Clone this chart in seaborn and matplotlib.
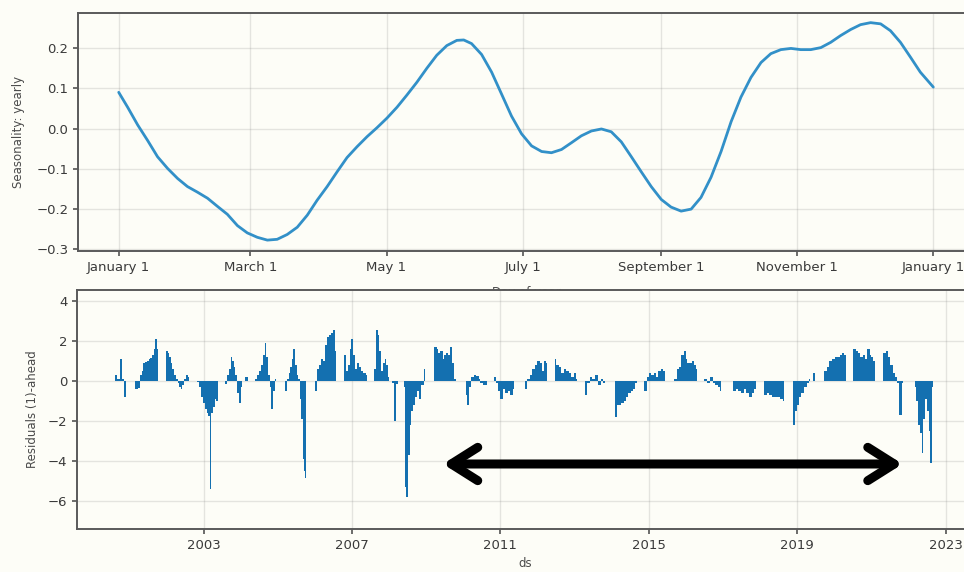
import numpy as np
import pandas as pd
import matplotlib
matplotlib.use("Agg")
import matplotlib.pyplot as plt
import matplotlib.dates as mdates
import seaborn as sns

# ---- yearly seasonality component (day of year -> effect) ----
season_day = [0, 4.0, 8.5, 13.0, 17.4, 21.9, 26.4, 30.8, 35.3, 39.8, 44.2, 48.7,
              53.2, 57.6, 62.1, 66.6, 71.0, 75.5, 80.0, 84.5, 88.9, 93.4, 97.9,
              102.3, 106.8, 111.3, 115.7, 120.2, 124.7, 129.1, 133.6, 138.1,
              142.5, 147.0, 151.5, 154.6, 158.1, 162.6, 167.1, 171.6, 176.0,
              180.5, 185.0, 189.5, 193.9, 198.4, 202.9, 207.3, 211.8, 216.3,
              220.7, 225.2, 229.7, 234.1, 238.6, 243.1, 247.5, 252.0, 256.5,
              260.9, 265.4, 269.9, 274.4, 278.8, 283.3, 287.8, 292.2, 296.7,
              301.2, 305.6, 310.1, 314.6, 319.0, 323.5, 328.0, 332.4, 336.9,
              341.4, 345.8, 350.3, 354.8, 359.2, 365.0]
season_value = [0.090, 0.053, 0.009, -0.030, -0.070, -0.099, -0.124, -0.144,
                -0.158, -0.173, -0.193, -0.213, -0.241, -0.259, -0.270, -0.277,
                -0.275, -0.263, -0.245, -0.215, -0.178, -0.144, -0.107, -0.072,
                -0.045, -0.020, 0.002, 0.026, 0.053, 0.083, 0.115, 0.150, 0.182,
                0.206, 0.219, 0.220, 0.211, 0.184, 0.140, 0.085, 0.031, -0.013,
                -0.043, -0.057, -0.060, -0.052, -0.035, -0.018, -0.006, -0.001,
                -0.008, -0.033, -0.070, -0.107, -0.144, -0.176, -0.195, -0.205,
                -0.200, -0.171, -0.121, -0.057, 0.017, 0.078, 0.127, 0.164,
                0.186, 0.196, 0.199, 0.196, 0.196, 0.201, 0.214, 0.231, 0.246,
                0.258, 0.263, 0.260, 0.243, 0.214, 0.177, 0.140, 0.103]
month_tick_day = [0, 59, 120, 181, 243, 304, 365]
month_tick_label = ["January 1", "March 1", "May 1", "July 1", "September 1",
                    "November 1", "January 1"]

# ---- one-step-ahead residuals (decimal year -> residual) ----
residual_year = [
    2000.62, 2000.68, 2000.75, 2000.81, 2000.86,
    2001.16, 2001.22, 2001.29, 2001.34, 2001.38, 2001.43, 2001.47, 2001.52, 2001.56,
    2001.61, 2001.65, 2001.70, 2001.74,
    2001.98, 2002.03, 2002.07, 2002.12, 2002.16, 2002.21, 2002.25, 2002.30, 2002.34,
    2002.39, 2002.43, 2002.48, 2002.52, 2002.57,
    2002.82, 2002.87, 2002.93, 2002.98, 2003.04, 2003.09, 2003.13, 2003.17, 2003.21,
    2003.25, 2003.30, 2003.34,
    2003.58, 2003.64, 2003.68, 2003.73, 2003.77, 2003.82, 2003.86, 2003.91, 2003.95,
    2004.00, 2004.05, 2004.11, 2004.16,
    2004.39, 2004.45, 2004.50, 2004.56, 2004.60, 2004.65, 2004.69, 2004.74, 2004.78,
    2004.82, 2004.86, 2004.92,
    2005.20, 2005.25, 2005.29, 2005.34, 2005.38, 2005.42, 2005.46, 2005.51, 2005.55,
    2005.59, 2005.63, 2005.67, 2005.70, 2005.73,
    2006.01, 2006.07, 2006.12, 2006.17, 2006.23, 2006.28, 2006.34, 2006.39, 2006.44,
    2006.49, 2006.53,
    2006.78, 2006.83, 2006.88, 2006.94, 2006.98, 2007.03, 2007.07, 2007.13, 2007.18,
    2007.24, 2007.31, 2007.37,
    2007.60, 2007.65, 2007.69, 2007.74, 2007.78, 2007.83, 2007.88, 2007.93, 2007.97,
    2008.08, 2008.14, 2008.19,
    2008.40, 2008.43, 2008.47, 2008.51, 2008.56, 2008.60, 2008.65, 2008.70, 2008.76,
    2008.81, 2008.86, 2008.94,
    2009.22, 2009.28, 2009.33, 2009.38, 2009.44, 2009.49, 2009.54, 2009.59, 2009.65,
    2009.70, 2009.76,
    2010.06, 2010.11, 2010.16, 2010.21, 2010.28, 2010.35, 2010.41, 2010.46, 2010.53,
    2010.60,
    2010.82, 2010.87, 2010.93, 2011.00, 2011.06, 2011.13, 2011.20, 2011.27, 2011.34,
    2011.66, 2011.72, 2011.79, 2011.86, 2011.94, 2012.00, 2012.06, 2012.12, 2012.18,
    2012.22,
    2012.46, 2012.51, 2012.57, 2012.64, 2012.71, 2012.77, 2012.84, 2012.91, 2012.98,
    2013.03,
    2013.28, 2013.34, 2013.41, 2013.48, 2013.55, 2013.63, 2013.70, 2013.77,
    2014.08, 2014.14, 2014.20, 2014.26, 2014.33, 2014.39, 2014.45, 2014.52, 2014.58,
    2014.63,
    2014.88, 2014.95, 2015.01, 2015.07, 2015.14, 2015.20, 2015.26, 2015.33, 2015.39,
    2015.69, 2015.76, 2015.82, 2015.88, 2015.94, 2015.99, 2016.04, 2016.10, 2016.16,
    2016.22, 2016.26,
    2016.50, 2016.58, 2016.65, 2016.72, 2016.79, 2016.86, 2016.91,
    2017.27, 2017.34, 2017.41, 2017.48, 2017.56, 2017.63, 2017.70, 2017.77, 2017.84,
    2018.10, 2018.18, 2018.25, 2018.32, 2018.39, 2018.46, 2018.54, 2018.61,
    2018.89, 2018.93, 2018.99, 2019.05, 2019.11, 2019.18, 2019.26, 2019.32,
    2019.43,
    2019.72, 2019.79, 2019.87, 2019.94, 2020.01, 2020.08, 2020.15, 2020.22, 2020.27,
    2020.51, 2020.58, 2020.64, 2020.70, 2020.77, 2020.83, 2020.89, 2020.95, 2021.00,
    2021.05,
    2021.32, 2021.38, 2021.44, 2021.50, 2021.57, 2021.63, 2021.69, 2021.75, 2021.81,
    2022.17, 2022.21, 2022.26, 2022.30, 2022.35, 2022.39, 2022.45, 2022.49, 2022.54,
    2022.59, 2022.63,
]
residual_value = [
    0.3, 0.1, 1.1, 0.1, -0.8,
    -0.4, -0.35, 0.3, 0.5, 0.9, 0.95, 1.0, 1.1, 1.15, 1.3, 1.6, 2.1, 1.6,
    1.5, 1.4, 1.2, 0.9, 0.6, 0.3, 0.1, -0.1, -0.3, -0.4, -0.2, 0.1, 0.3, 0.2,
    -0.05, -0.3, -0.8, -1.1, -1.4, -1.6, -1.75, -5.4, -1.6, -1.3, -0.9, -1.0,
    -0.15, 0.3, 0.6, 1.2, 1.0, 0.7, 0.3, -0.6, -1.1, -0.3, 0.0, 0.2, 0.2,
    0.1, 0.3, 0.5, 0.8, 1.3, 1.9, 1.2, 0.3, -0.3, -1.4, -0.5, 0.1,
    -0.5, 0.1, 0.4, 0.7, 1.1, 1.6, 0.8, 0.3, 0.1, -0.9, -1.9, -3.9, -4.5, -4.85,
    -0.5, 0.6, 0.8, 1.1, 1.0, 1.8, 2.2, 2.3, 2.4, 2.55, 1.5,
    1.3, 0.5, 0.8, 1.6, 2.1, 1.3, 0.6, 0.9, 0.7, 0.5, 0.4, 0.3,
    0.6, 2.55, 2.3, 1.5, 0.5, 0.9, 1.1, 0.8, 0.2,
    -0.1, -2.0, -0.15,
    -0.3, -5.3, -5.8, -3.7, -2.2, -1.5, -1.2, -0.8, -0.5, -0.9, -0.2, 0.6,
    1.7, 1.6, 1.4, 1.5, 1.1, 1.3, 1.4, 1.3, 1.7, 0.9, 0.1,
    -0.7, -1.2, -0.3, 0.2, 0.3, 0.25, 0.1, -0.1, -0.2, -0.2,
    0.2, -0.1, -0.5, -0.9, -0.4, -0.6, -0.5, -0.7, -0.4,
    -0.4, 0.1, 0.3, 0.6, 0.8, 1.0, 0.9, 0.5, 1.0, 0.9,
    1.1, 0.8, 0.7, 0.4, 0.6, 0.5, 0.4, 0.2, 0.4, 0.1,
    -0.7, -0.1, 0.2, 0.1, 0.3, -0.2, 0.1, -0.1,
    -1.8, -1.2, -1.2, -1.1, -1.0, -0.8, -0.6, -0.5, -0.4, -0.1,
    -0.5, 0.2, 0.4, 0.3, 0.4, 0.2, 0.5, 0.6, 0.5,
    0.1, 0.6, 0.7, 1.3, 1.5, 1.1, 0.9, 0.9, 1.0, 0.8, 0.6,
    0.1, -0.1, 0.2, -0.1, -0.2, -0.3, -0.5,
    -0.5, -0.4, -0.5, -0.6, -0.4, -0.6, -0.8, -0.6, -0.4,
    -0.7, -0.6, -0.7, -0.8, -0.8, -0.8, -0.9, -1.0,
    -2.2, -1.5, -1.2, -0.8, -0.6, -0.3, -0.1, 0.1,
    0.4,
    0.5, 0.7, 1.0, 1.1, 1.2, 1.2, 1.3, 1.4, 1.3,
    1.6, 1.5, 1.4, 1.2, 1.3, 1.1, 1.6, 1.3, 1.2, 1.0,
    1.4, 1.5, 1.2, 0.8, 0.4, 0.2, -0.1, -1.7, -0.1,
    -0.3, -1.0, -2.2, -2.6, -3.6, -1.9, -0.9, -1.5, -2.5, -4.1, -0.3,
]
residual_year_ticks = [2003, 2007, 2011, 2015, 2019, 2023]
residual_year_limits = (1999.59, 2023.74)

# span marked by the double-headed arrow (decimal years) and its height
arrow_start_year = 2009.45
arrow_end_year = 2021.84
arrow_level = -4.15

BG = "#fdfdf7"
LINE_BLUE = "#3290c8"
BAR_BLUE = "#1470b0"

sns.set_theme(style="white")
plt.rcParams["font.family"] = ["DejaVu Sans"]
plt.rcParams.update({
    "axes.edgecolor": "#5a5a5a",
    "axes.linewidth": 1.4,
    "xtick.color": "#5a5a5a",
    "ytick.color": "#5a5a5a",
    "xtick.labelcolor": "#3a3a3a",
    "ytick.labelcolor": "#3a3a3a",
    "axes.labelcolor": "#4a4a4a",
    "xtick.labelsize": 9.5,
    "ytick.labelsize": 9.5,
    "axes.labelsize": 8.5,
    "xtick.major.size": 3.5,
    "ytick.major.size": 3.5,
    "xtick.bottom": True,
    "ytick.left": True,
})


def decimal_year_to_num(y):
    y = np.asarray(y, dtype=float)
    whole = np.floor(y).astype(int)
    out = []
    for w, f in zip(whole, y - whole):
        start = pd.Timestamp(year=int(w), month=1, day=1)
        out.append(start + pd.Timedelta(days=float(f) * 365.25))
    return mdates.date2num(pd.to_datetime(out))


fig = plt.figure(figsize=(9.64, 5.72), dpi=100, facecolor=BG)
ax_top = fig.add_axes([0.0809, 0.5612, 0.9295, 0.4161], facecolor=BG)
ax_bot = fig.add_axes([0.0799, 0.0752, 0.9295, 0.4178], facecolor=BG)

# ---- top: yearly seasonality ----
season_df = pd.DataFrame({"day": season_day, "value": season_value})
sns.lineplot(data=season_df, x="day", y="value", ax=ax_top, color=LINE_BLUE,
             linewidth=2.0)
ax_top.set_xlim(-18.25, 383.25)
ax_top.set_ylim(-0.304, 0.287)
ax_top.set_xticks(month_tick_day)
ax_top.set_xticklabels(month_tick_label)
ax_top.set_yticks([-0.3, -0.2, -0.1, 0.0, 0.1, 0.2])
ax_top.set_xlabel("Day of year", labelpad=9)
ax_top.set_ylabel("Seasonality: yearly", labelpad=8)
ax_top.grid(True, which="major", color="gray", linestyle="-", linewidth=1, alpha=0.2)

# ---- bottom: residual bars ----
res_x = decimal_year_to_num(residual_year)
gaps = np.diff(res_x)
widths = np.append(np.where(gaps < 36, gaps, 14.0), 14.0)
ax_bot.bar(res_x, residual_value, width=widths, align="edge", color=BAR_BLUE,
           linewidth=0)
ax_bot.set_xlim(*decimal_year_to_num(residual_year_limits))
ax_bot.set_xticks(decimal_year_to_num(residual_year_ticks))
ax_bot.set_xticklabels([str(y) for y in residual_year_ticks])
ax_bot.set_ylim(-7.4, 4.55)
ax_bot.set_yticks([-6, -4, -2, 0, 2, 4])
ax_bot.set_xlabel("ds")
ax_bot.set_ylabel("Residuals (1)-ahead", labelpad=6)
ax_bot.grid(True, which="major", color="gray", linestyle="-", linewidth=1, alpha=0.2)
ax_bot.set_axisbelow(True)

arrow_x = decimal_year_to_num([arrow_start_year, arrow_end_year])
ax_bot.annotate("", xy=(arrow_x[1], arrow_level), xytext=(arrow_x[0], arrow_level),
                arrowprops=dict(arrowstyle="<->,head_length=0.95,head_width=0.6",
                                color="black", lw=6.5, mutation_scale=20,
                                shrinkA=0, shrinkB=0, capstyle="round",
                                joinstyle="round"))

fig.savefig("out.png", dpi=100, facecolor=BG)
